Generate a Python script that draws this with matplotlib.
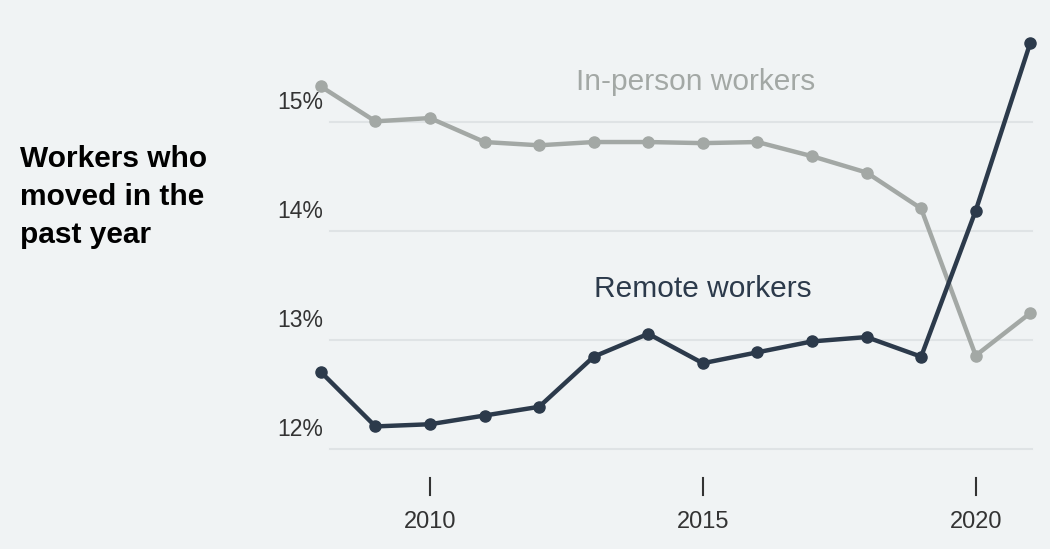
import matplotlib
matplotlib.use("Agg")
import matplotlib.pyplot as plt
import matplotlib.transforms as mtransforms

YEARS = list(range(2008, 2022))
IN_PERSON = [15.33, 15.01, 15.04, 14.82, 14.79, 14.82, 14.82, 14.81, 14.82, 14.69, 14.54, 14.21, 12.86, 13.25]
REMOTE = [12.71, 12.21, 12.23, 12.31, 12.39, 12.85, 13.06, 12.79, 12.89, 12.99, 13.03, 12.85, 14.19, 15.73]
Y_TICKS = [12, 13, 14, 15]
X_TICKS = [2010, 2015, 2020]

BG = "#f0f3f4"
GREY = "#a3a8a5"
DARK = "#2c3a4b"
FONT = "Liberation Sans"

fig = plt.figure(figsize=(10.5, 5.49), dpi=100, facecolor=BG)
ax = fig.add_axes([275 / 1050, 1 - 470 / 549, 770 / 1050, 450 / 549])
ax.set_facecolor(BG)
ax.set_xlim(2007.16, 2021.27)
ax.set_ylim(11.81, 15.94)
for s in ax.spines.values():
    s.set_visible(False)
ax.set_xticks([])
ax.set_yticks([])

for y in Y_TICKS:
    ax.axhline(y, xmin=(330 - 275) / 770, xmax=(1032 - 275) / 770,
               color="#dfe3e5", lw=1.5, zorder=0)
    ax.text(2007.2, y + 0.08, f"{y}%", ha="left", va="bottom", fontsize=16.5,
            color="#333333", family=FONT)

trans = mtransforms.blended_transform_factory(ax.transData, ax.transAxes)
for x in X_TICKS:
    ax.plot([x, x], [-8 / 450, -25 / 450], transform=trans, color="#333333",
            lw=1.5, clip_on=False)
    ax.text(x, -52 / 450, str(x), transform=trans, ha="center", va="center",
            fontsize=17, color="#333333", family=FONT)

ax.plot(YEARS, IN_PERSON, color=GREY, lw=3.2, marker="o", ms=8, zorder=2)
ax.plot(YEARS, REMOTE, color=DARK, lw=3.2, marker="o", ms=8, zorder=3)

ax.text(2014.87, 15.37, "In-person workers", ha="center", va="center",
        fontsize=21.5, color=GREY, family=FONT)
ax.text(2015.0, 13.47, "Remote workers", ha="center", va="center",
        fontsize=21.5, color=DARK, family=FONT)

fig.text(20 / 1050, 1 - 197 / 549, "Workers who\nmoved in the\npast year",
         ha="left", va="center", fontsize=21.5, fontweight="bold",
         color="black", family=FONT, linespacing=1.45)

fig.savefig("out.png", facecolor=BG)
